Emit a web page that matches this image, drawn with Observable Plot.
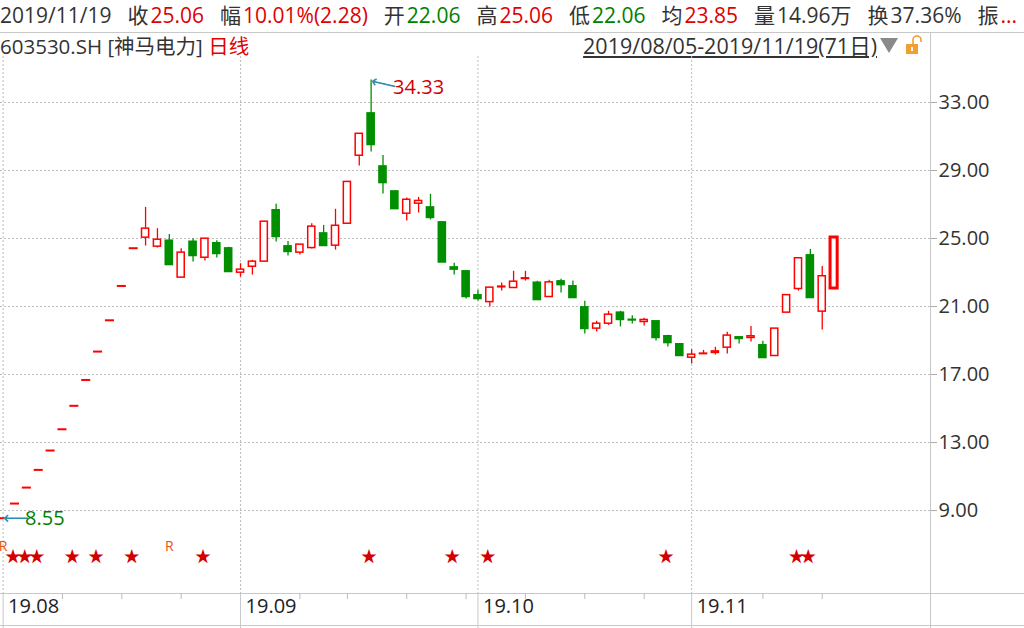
<!DOCTYPE html>
<html><head><meta charset="utf-8">
<script src="https://cdn.jsdelivr.net/npm/d3@7"></script>
<script src="https://cdn.jsdelivr.net/npm/@observablehq/plot@0.6"></script>
<style>
body{margin:0;width:1024px;height:628px;overflow:hidden;background:#fff;position:relative;font-family:"Open Sans","Noto Sans CJK SC",sans-serif;color:#333}
#h1{position:absolute;left:0;top:0;width:1024px;height:32px;border-bottom:1px solid #c8c8c8;white-space:nowrap;overflow:hidden;font-size:21px;line-height:31px}
#h1 .g{margin-left:16px}
#h1 .v{margin-left:2px}
#h2{position:absolute;left:0;top:33px;font-size:20.5px;line-height:26px;white-space:nowrap}
#range{position:absolute;right:147px;top:33px;font-size:21.5px;line-height:26px;white-space:nowrap;text-decoration:underline;text-underline-offset:2px}
#tri{position:absolute;left:880px;top:38px}
#lock{position:absolute;left:906px;top:35px}
.line{position:absolute;background:#c8c8c8}
#chart{position:absolute;left:0;top:56px}
</style></head>
<body>
<div id="h1"></div>
<div id="h2"></div>
<div id="range"></div>
<svg id="tri" width="18" height="15"><polygon points="0,0 18,0 9,15" fill="#8a8a8a"/></svg>
<svg id="lock" width="16" height="20"><path d="M7 9 V5 a4 4 0 0 1 8 0 V7" fill="none" stroke="#f0a030" stroke-width="1.6"/><rect x="0" y="9" width="12" height="10" fill="#f0a030"/><rect x="5" y="12" width="2" height="4" fill="#fff"/></svg>
<div class="line" style="left:930px;top:33px;width:1px;height:595px"></div>
<div class="line" style="left:0;top:593px;width:1024px;height:1px"></div>
<div class="line" style="left:0;top:625px;width:1024px;height:1px"></div>
<div id="chart"></div>
<script>
// ---- data ----
const OPEN = [8.55,9.41,10.35,11.39,12.53,13.78,15.16,16.68,18.35,20.19,22.21,24.43,
25.05,24.52,24.87,22.70,24.81,23.87,24.72,24.42,22.99,23.34,
23.64,26.66,24.54,24.17,24.44,25.30,24.58,25.87,29.87,32.36,
29.24,27.77,26.46,27.05,26.83,25.95,23.30,23.07,21.66,21.26,
22.13,22.09,22.62,22.40,21.56,22.48,22.19,20.95,19.70,19.99,
20.64,20.22,20.09,20.13,19.25,18.78,17.99,18.20,18.27,18.58,
19.19,19.15,18.72,18.09,20.64,22.03,24.01,20.70,22.06];
const HIGH = [8.55,9.41,10.35,11.39,12.53,13.78,15.16,16.68,18.35,20.19,22.21,24.43,
26.83,25.58,25.24,24.40,24.99,24.99,24.87,24.48,23.52,23.72,
25.99,27.01,24.83,24.64,25.87,25.77,26.72,28.33,31.16,34.33,
29.89,27.77,27.38,27.42,27.60,25.95,23.54,23.07,21.95,22.11,
22.38,23.07,23.07,22.48,22.54,22.60,22.50,21.31,20.13,20.72,
20.72,20.46,20.31,20.13,19.31,18.83,18.46,18.42,18.60,19.48,
19.19,19.83,18.95,19.70,21.67,23.84,24.36,23.36,25.06];
const LOW = [8.55,9.41,10.35,11.39,12.53,13.78,15.16,16.68,18.35,20.19,22.21,24.43,
24.56,24.44,23.44,22.70,23.62,23.68,23.85,23.03,22.73,22.85,
23.64,24.79,23.97,24.03,24.38,24.56,24.32,25.87,29.26,30.09,
27.62,26.73,26.03,26.50,26.09,23.59,22.85,21.44,21.32,20.97,
21.91,22.09,22.50,21.38,21.56,21.79,21.50,19.38,19.50,19.89,
19.80,19.97,19.85,18.97,18.62,18.09,17.62,18.20,18.15,18.21,
18.80,18.91,17.97,18.09,20.64,21.91,21.50,19.62,22.06];
const CLOSE = [8.55,9.41,10.35,11.39,12.53,13.78,15.16,16.68,18.35,20.19,22.21,24.43,
25.58,24.93,23.44,24.17,23.97,24.99,24.09,23.03,23.17,23.64,
25.99,25.09,24.21,24.64,25.70,24.56,25.75,28.33,31.16,30.50,
28.26,26.73,27.28,27.21,26.21,23.59,23.17,21.56,21.44,22.11,
22.17,22.46,22.66,21.38,22.42,22.26,21.50,19.68,19.99,20.52,
20.21,20.18,20.21,19.15,18.85,18.09,18.17,18.23,18.36,19.29,
19.09,19.25,17.97,19.70,21.67,23.84,21.50,22.78,25.06];
const yTicks = [9,13,17,21,25,29,33];
const monthTicks = [0,20,40,58];
const monthLabels = ["19.08","19.09","19.10","19.11"];
const weekTicks = [5,10,15,25,29,34,39,44,49,54,64,69];
const starIdx = [1,2,3,6,8,11,17,31,38,41,56,67,68];
const rIdx = [0,14];
const maxMark = [{i:31, v:34.33}];
const minMark = [{i:0, v:8.55}];
const header = {date:"2019/11/19", items:[["收","25.06","r"],["幅","10.01%(2.28)","r"],["开","22.06","g"],["高","25.06","r"],["低","22.06","g"],["均","23.85","r"],["量","14.96万","k"],["换","37.36%","k"],["振","...","r"]]};
const code = "603530.SH [神马电力]", period = "日线", rangeText = "2019/08/05-2019/11/19(71日)";

const RED = "#ff0000", GREEN = "#008f00", TEAL = "#2a8fb5";
const colMap = {r:"#e00000", g:"#008000", k:"#333"};

// header
const h1 = document.getElementById("h1");
h1.innerHTML = `<span>${header.date}</span>` + header.items.map(([a,b,c]) =>
  `<span class="g">${a}</span><span class="v" style="color:${colMap[c]}">${b}</span>`).join("");
document.getElementById("h2").innerHTML = `${code} <span style="color:#e00000">${period}</span>`;
document.getElementById("range").textContent = rangeText;

const candles = OPEN.map((o,i) => ({i, o, h:HIGH[i], l:LOW[i], c:CLOSE[i], col: CLOSE[i] >= o ? RED : GREEN, last: i === OPEN.length-1}));
const bodies = candles.filter(d => d.o !== d.c);
const flats = candles.filter(d => d.o === d.c);
const W = 0.3;

const chart = Plot.plot({
  width: 1024, height: 572,
  marginLeft: 0, marginRight: 94, marginTop: 0, marginBottom: 35,
  x: {domain: [-0.22, 78.12], axis: null},
  y: {domain: [4.12, 35.706], axis: null},
  style: {fontFamily: '"Open Sans","Noto Sans CJK SC",sans-serif', fontSize: "20px", color: "#333", background: "transparent", overflow: "visible"},
  marks: [
    Plot.gridY(yTicks, {stroke: "#bdbdbd", strokeOpacity: 1, strokeDasharray: "2,2"}),
    Plot.ruleX(monthTicks, {stroke: "#bdbdbd", strokeDasharray: "2,2"}),
    Plot.axisY(yTicks, {anchor: "right", tickSize: 6, tickPadding: 2, tickFormat: d => d.toFixed(2), stroke: "#aaa", fill: "#333", fontSize: 20, label: null}),
    Plot.axisX(weekTicks, {anchor: "bottom", tickSize: 6, tickFormat: () => "", stroke: "#bbb", label: null}),
    Plot.axisX(monthTicks, {anchor: "bottom", tickSize: 35, tickFormat: () => "", stroke: "#c8c8c8", label: null}),
    Plot.axisX(monthTicks, {anchor: "bottom", tickSize: 0, tickPadding: 5, tickFormat: d => monthLabels[monthTicks.indexOf(d)], textAnchor: "start", dx: 5, fill: "#222", fontSize: 20, label: null}),
    Plot.ruleX(bodies, {x: "i", y1: "l", y2: "h", stroke: "col", strokeWidth: 1.3}),
    Plot.rect(bodies, {x1: d => d.i - W, x2: d => d.i + W, y1: "o", y2: "c",
      fill: d => d.col === RED ? "#fff" : GREEN, stroke: "col", strokeWidth: d => d.last ? 3 : 1.5}),
    Plot.ruleY(flats, {y: "c", x1: d => d.i - 0.38, x2: d => d.i + 0.38, stroke: "col", strokeWidth: 2}),
    Plot.text(starIdx, {x: d => d, frameAnchor: "bottom", dy: -32, dx: -2, text: () => "★", fill: "#d40000", fontSize: 16}),
    Plot.text(rIdx, {x: d => d, frameAnchor: "bottom", dy: -43, text: () => "R", fill: "#e85010", fontSize: 14}),
    // max annotation
    Plot.text(maxMark, {x: "i", y: "v", text: () => "⟵", textAnchor: "start", fill: TEAL, fontSize: 18, fontFamily: "DejaVu Sans", rotate: 13, dy: 1}),
    Plot.text(maxMark, {x: "i", y: "v", text: d => d.v.toFixed(2), textAnchor: "start", dx: 22, dy: 8, fill: "#d00000", fontSize: 20}),
    // min annotation
    Plot.text(minMark, {x: "i", y: "v", text: () => "⟵", textAnchor: "start", fill: TEAL, fontSize: 18, fontFamily: "DejaVu Sans", dy: 0}),
    Plot.text(minMark, {x: "i", y: "v", text: d => d.v.toFixed(2), textAnchor: "start", dx: 22, dy: 0, fill: "#008000", fontSize: 20})
  ]
});
document.getElementById("chart").appendChild(chart);
</script>
</body></html>
